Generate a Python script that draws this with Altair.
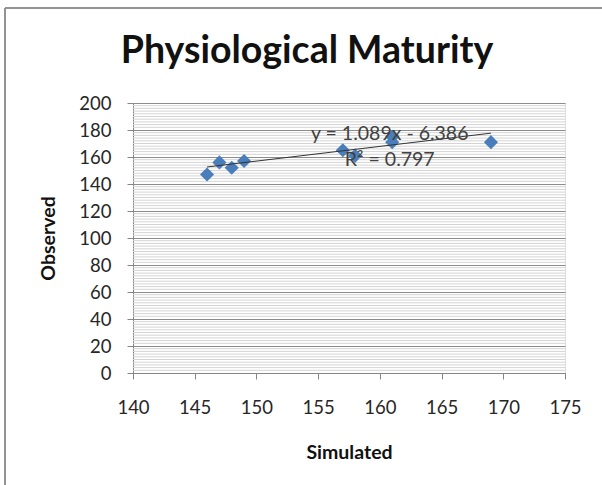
import altair as alt
import pandas as pd

simulated = [146, 147, 148, 149, 157, 158, 161, 161, 169]
observed = [147, 156, 152, 157, 165, 161, 175, 171, 171]
trend_slope = 1.089
trend_intercept = -6.386
r_squared = 0.797
x_ticks = [140, 145, 150, 155, 160, 165, 170, 175]
y_ticks = [0, 20, 40, 60, 80, 100, 120, 140, 160, 180, 200]
minor_grid = [v for v in range(0, 201, 2) if v % 20 != 0]

df = pd.DataFrame({"Simulated": simulated, "Observed": observed})
trend_df = pd.DataFrame({"Simulated": [min(simulated), max(simulated)]})
minor_df = pd.DataFrame({"Observed": minor_grid})
label_df = pd.DataFrame({
    "Simulated": [160.8, 160.8],
    "Observed": [177.0, 157.5],
    "text": [f"y = {trend_slope}x - {abs(trend_intercept)}", f"R² = {r_squared}"],
})

FONT = "Lato"

xscale = alt.Scale(domain=[140, 175], nice=False, zero=False)
yscale = alt.Scale(domain=[0, 200], nice=False)

xaxis = alt.Axis(values=x_ticks, title="Simulated", grid=False, domainColor="#868686",
                 tickColor="#868686", tickSize=6, labelFontSize=18.5, labelFont=FONT,
                 labelColor="#262626", labelPadding=19, labelFlush=False, titleFont=FONT,
                 titleFontSize=19.5, titleFontWeight="bold", titlePadding=27, titleColor="#111")
yaxis = alt.Axis(values=y_ticks, title="Observed", gridColor="#8c8c8c",
                 domainColor="#868686", tickColor="#868686", tickSize=6,
                 labelFontSize=18.5, labelFont=FONT, labelColor="#262626", labelPadding=16,
                 titleFont=FONT, titleFontSize=19.5, titleFontWeight="bold", titlePadding=20,
                 titleColor="#111")

minor = alt.Chart(minor_df).mark_rule(color="#d4d4d4", strokeWidth=1).encode(
    y=alt.Y("Observed:Q", scale=yscale, axis=yaxis),
)

points = alt.Chart(df).mark_point(shape="diamond", filled=True, size=200, color="#4a7ebb", opacity=1).encode(
    x=alt.X("Simulated:Q", scale=xscale, axis=xaxis),
    y=alt.Y("Observed:Q", scale=yscale, axis=yaxis),
)

trend = alt.Chart(trend_df).transform_calculate(
    Observed=f"{trend_slope} * datum.Simulated + ({trend_intercept})"
).mark_line(color="#333", strokeWidth=1).encode(
    x=alt.X("Simulated:Q", scale=xscale, axis=xaxis),
    y=alt.Y("Observed:Q", scale=yscale, axis=yaxis),
)

labels = alt.Chart(label_df).mark_text(font=FONT, fontSize=19.5, color="#404040").encode(
    x=alt.X("Simulated:Q", scale=xscale, axis=xaxis),
    y=alt.Y("Observed:Q", scale=yscale, axis=yaxis),
    text="text:N",
)

frame_top = alt.Chart(trend_df).mark_rule(color="#8c8c8c", strokeWidth=1.5).encode(
    x=alt.value(-128), x2=alt.value(470), y=alt.value(-95))
frame_left = alt.Chart(trend_df).mark_rule(color="#8c8c8c", strokeWidth=1.5).encode(
    x=alt.value(-128), y=alt.value(-95), y2=alt.value(390))

chart = alt.layer(minor, points, trend, labels, frame_top, frame_left).properties(
    width=432, height=270,
    padding={"left": 133, "top": 103, "right": 37, "bottom": 112},
    autosize=alt.AutoSizeParams(type="none"),
    title=alt.TitleParams("Physiological Maturity", font=FONT, fontSize=37.5, fontWeight="bold",
                          color="#111", offset=28, dy=91, dx=-42, anchor="middle", frame="group"),
).configure_view(stroke=None).configure(background="white")

chart.save("out.html", embed_options={"renderer": "svg", "actions": False})
